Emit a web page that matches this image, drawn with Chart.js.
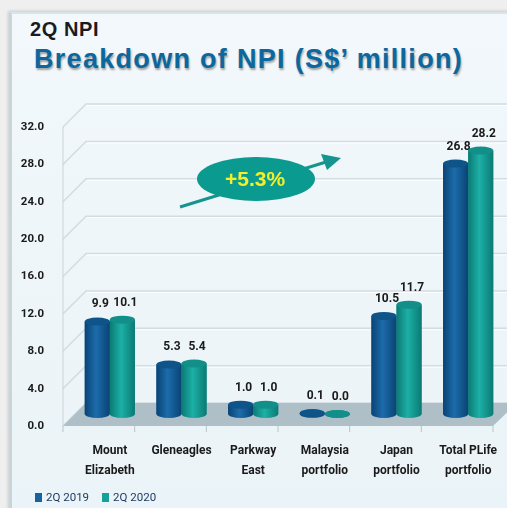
<!DOCTYPE html>
<html lang="en">
<head>
<meta charset="UTF-8">
<title>2Q NPI</title>
<script src="https://cdn.jsdelivr.net/npm/chart.js"></script>
<style>
  body { margin:0; width:507px; height:508px; overflow:hidden; background:#efefef; font-family: Arial, 'Liberation Sans', sans-serif; position:relative; }
  .panel { position:absolute; left:9px; top:12px; width:520px; height:520px; background:linear-gradient(#f2f8fb, #eaf3f7); border-left:3px solid #c7d5dc; border-top:2px solid #d9e3e8; box-shadow:-1px -1px 3px rgba(0,0,0,0.15); }
  .sup { position:absolute; left:30px; top:18px; font-weight:bold; font-size:20px; letter-spacing:0.6px; color:#1b1b1b; }
  .title { position:absolute; left:34px; top:44px; font-weight:bold; font-size:27px; letter-spacing:1.3px; color:#0c679e; text-shadow:1px 2px 2px rgba(0,0,0,0.35); white-space:nowrap; }
  .wrap { position:absolute; left:0; top:0; width:507px; height:508px; }
  #legend { position:absolute; left:35px; top:490px; display:flex; gap:13px; font-family:Roboto, sans-serif; font-size:11.5px; color:#1f3b63; }
  #legend span.box { display:inline-block; width:7px; height:9px; margin-right:4px; vertical-align:-1px; }
</style>
</head>
<body>
  <div class="panel"></div>
  <div class="sup">2Q NPI</div>
  <div class="title">Breakdown of NPI (S$’ million)</div>
  <div class="wrap"><canvas id="npiChart"></canvas></div>
  <div id="legend"></div>

<script>
  // Daten
  const categories = [['Mount', 'Elizabeth'], 'Gleneagles', ['Parkway', 'East'], ['Malaysia', 'portfolio'], ['Japan', 'portfolio'], ['Total PLife', 'portfolio']];
  const seriesLabels = ['2Q 2019', '2Q 2020'];
  const npi2019 = [9.9, 5.3, 1.0, 0.1, 10.5, 26.8];
  const npi2020 = [10.1, 5.4, 1.0, 0.0, 11.7, 28.2];
  const yMin = 0, yMax = 32, yStep = 4;
  const changeLabel = '+5.3%';

  const labelFont = "Roboto, 'Liberation Sans', sans-serif";
  const flatColors = ['#1564a0', '#17a097'];
  const shades = [
    { edge: '#0a4374', mid: '#1c6cab', top: '#0e5489' },
    { edge: '#0b7a74', mid: '#1cb0a6', top: '#118f88' }
  ];
  const DX = 11, DY = 12; // 3D-Versatz

  // Rückwand, Boden und Achsenstriche
  const wallPlugin = {
    id: 'wall',
    beforeDatasetsDraw(chart) {
      const { ctx, chartArea, scales: { y } } = chart;
      const left = chartArea.left - DX;
      ctx.save();
      for (let v = yMin; v <= yMax; v += yStep) {
        const yl = y.getPixelForValue(v) + DY;
        const yg = y.getPixelForValue(v) - DY + 1;
        ctx.strokeStyle = '#d2dce2';
        ctx.lineWidth = 1.5;
        ctx.beginPath();
        ctx.moveTo(left, yl);
        ctx.lineTo(left + 2 * DX + 1, yg);
        ctx.lineTo(chart.width, yg);
        ctx.stroke();
        ctx.strokeStyle = 'rgba(255,255,255,0.9)';
        ctx.lineWidth = 1;
        ctx.beginPath();
        ctx.moveTo(left + 2 * DX + 2, yg + 1.5);
        ctx.lineTo(chart.width, yg + 1.5);
        ctx.stroke();
      }
      // senkrechte Achse
      ctx.strokeStyle = '#c9d4da';
      ctx.lineWidth = 1;
      ctx.beginPath();
      ctx.moveTo(left, y.getPixelForValue(yMax) + DY);
      ctx.lineTo(left, y.getPixelForValue(0) + DY);
      ctx.stroke();
      // Boden
      const y0 = y.getPixelForValue(0);
      ctx.fillStyle = '#afbfc8';
      ctx.beginPath();
      ctx.moveTo(left, y0 + DY);
      ctx.lineTo(chartArea.right - DX, y0 + DY);
      ctx.lineTo(chart.width + 10, y0 - DY + 1);
      ctx.lineTo(left + 2 * DX + 1, y0 - DY + 1);
      ctx.closePath();
      ctx.fill();
      // Striche an den Kategoriegrenzen
      const w = (chartArea.right - chartArea.left) / categories.length;
      ctx.strokeStyle = '#b9c5cb';
      for (let i = 0; i <= categories.length; i++) {
        const xx = chartArea.left + i * w - DX;
        ctx.beginPath();
        ctx.moveTo(xx, y0 + DY);
        ctx.lineTo(xx, y0 + DY + 6);
        ctx.stroke();
      }
      ctx.restore();
    }
  };

  // Zylinder-Optik und Wertebeschriftung
  const cylinderPlugin = {
    id: 'cylinder',
    afterDatasetsDraw(chart) {
      const { ctx } = chart;
      ctx.save();
      chart.data.datasets.forEach((ds, di) => {
        const meta = chart.getDatasetMeta(di);
        const s = shades[di];
        meta.data.forEach((bar, i) => {
          const half = bar.width / 2;
          const ry = 4;
          const g = ctx.createLinearGradient(bar.x - half, 0, bar.x + half, 0);
          g.addColorStop(0, s.edge);
          g.addColorStop(0.45, s.mid);
          g.addColorStop(1, s.edge);
          ctx.fillStyle = g;
          ctx.fillRect(bar.x - half, bar.y, bar.width, bar.base - bar.y);
          ctx.beginPath();
          ctx.ellipse(bar.x, bar.base, half, ry, 0, 0, Math.PI * 2);
          ctx.fill();
          ctx.fillStyle = s.top;
          ctx.beginPath();
          ctx.ellipse(bar.x, bar.y, half, ry, 0, 0, Math.PI * 2);
          ctx.fill();
          ctx.fillStyle = '#1a1a1a';
          ctx.font = 'bold 12px ' + labelFont;
          ctx.textAlign = 'center';
          ctx.textBaseline = 'middle';
          ctx.fillText(ds.data[i].toFixed(1), bar.x + 3, bar.y - 17);
        });
      });
      ctx.restore();
    }
  };

  // Pfeil mit Wachstumsangabe
  const growthPlugin = {
    id: 'growth',
    afterDraw(chart) {
      const { ctx } = chart;
      ctx.save();
      ctx.strokeStyle = '#14958f';
      ctx.fillStyle = '#14958f';
      ctx.lineWidth = 3;
      ctx.beginPath();
      ctx.moveTo(180, 207);
      ctx.lineTo(326, 162);
      ctx.stroke();
      ctx.beginPath();
      ctx.moveTo(341, 158);
      ctx.lineTo(321, 154);
      ctx.lineTo(327, 170);
      ctx.closePath();
      ctx.fill();
      ctx.fillStyle = '#0b9a8f';
      ctx.beginPath();
      ctx.ellipse(256, 179, 59, 22, 0, 0, Math.PI * 2);
      ctx.fill();
      ctx.fillStyle = '#f3ef2a';
      ctx.font = 'bold 21px Arial, sans-serif';
      ctx.textAlign = 'center';
      ctx.textBaseline = 'middle';
      ctx.fillText(changeLabel, 255, 180);
      ctx.restore();
    }
  };

  const noPad = s => { s.paddingLeft = 0; s.paddingRight = 0; s.paddingTop = 0; s.paddingBottom = 0; };

  const ctx = document.getElementById('npiChart').getContext('2d');
  const npiChart = new Chart(ctx, {
    type: 'bar',
    data: {
      labels: categories,
      datasets: [
        { label: seriesLabels[0], data: npi2019, backgroundColor: flatColors[0], borderWidth: 0, barPercentage: 1.0, categoryPercentage: 0.7 },
        { label: seriesLabels[1], data: npi2020, backgroundColor: flatColors[1], borderWidth: 0, barPercentage: 1.0, categoryPercentage: 0.7 }
      ]
    },
    options: {
      responsive: true,
      maintainAspectRatio: false,
      animation: false,
      layout: { padding: { left: 0, right: 3, top: 115, bottom: 26 } },
      plugins: {
        legend: { display: false },
        tooltip: { enabled: false }
      },
      scales: {
        x: {
          grid: { display: false },
          border: { display: false },
          ticks: {
            color: '#1a1a1a',
            padding: 19,
            maxRotation: 0,
            minRotation: 0,
            autoSkip: false,
            font: { family: labelFont, size: 12, weight: 'bold', lineHeight: 1.65 }
          },
          afterFit: s => { s.height = 68; noPad(s); }
        },
        y: {
          min: yMin,
          max: yMax,
          grid: { display: false },
          border: { display: false },
          ticks: {
            stepSize: yStep,
            padding: 22,
            labelOffset: DY,
            color: '#1a1a1a',
            font: { family: labelFont, size: 11.5, weight: 'bold' },
            callback: v => v.toFixed(1)
          },
          afterFit: s => { s.width = 74; noPad(s); }
        }
      }
    },
    plugins: [wallPlugin, cylinderPlugin, growthPlugin]
  });

  // Legende aus den Datensätzen
  document.getElementById('legend').innerHTML = npiChart.data.datasets.map(ds =>
    `<span><span class="box" style="background:${ds.backgroundColor}"></span>${ds.label}</span>`).join('');
</script>
</body>
</html>
